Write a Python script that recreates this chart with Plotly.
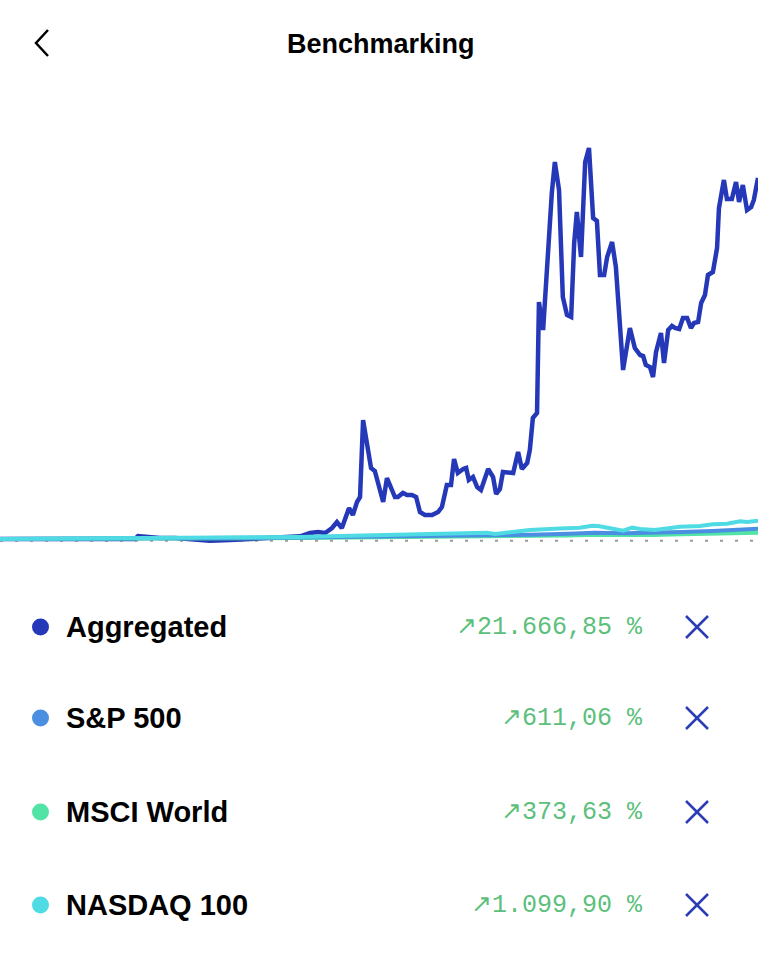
import plotly.graph_objects as go

# Aggregated portfolio performance (%), x = weeks
agg_weeks = [0, 8, 16, 24, 32, 35.6, 36.4, 38.3, 42.2, 46.2, 51.5, 55.4, 60.7, 66, 71.2, 76.5,
             79.2, 81.8, 83.9, 85.8, 87.6, 88.9, 90.2, 92.1, 93.1, 94.2, 95.0, 95.8, 97.9, 98.9,
             99.7, 101.1, 102.1, 104.2, 105.0, 106.3, 107.4, 108.7, 109.8, 110.8, 112.1, 114.0,
             115.6, 116.6, 117.9, 119.0, 119.8, 120.8, 122.2, 123.0, 123.7, 124.8, 125.9, 126.9,
             128.8, 130.1, 130.9, 131.9, 132.7, 135.4, 136.7, 137.7, 139.1, 139.8, 140.6, 141.7,
             142.2, 143.3, 145.6, 146.4, 147.5, 148.5, 149.6, 150.7, 151.5, 152.2, 153.3, 154.4,
             155.4, 156.5, 157.5, 158.3, 159.4, 160.2, 161.5, 162.5, 164.4, 166.2, 167.5, 168.9,
             169.7, 170.4, 171.5, 172.3, 173.1, 174.4, 175.2, 176.3, 177.3, 178.1, 179.2, 180.2,
             181.3, 182.3, 183.1, 184.2, 185.0, 186.0, 186.8, 188.1, 189.2, 189.7, 191.0, 191.8,
             193.1, 194.2, 195.0, 196.0, 197.1, 198.2, 198.9, 200]
agg_values = [0, 10, -10, 20, 0, 0, 180, 120, 60, 60, -60, -100, -60, 0, 40, 100,
              160, 360, 420, 360, 660, 1020, 660, 1860, 1440, 2220, 2520, 7140, 4260, 4080,
              3420, 2220, 3660, 2520, 2520, 2760, 2640, 2640, 2520, 1620, 1440, 1440,
              1620, 1920, 3240, 3240, 4800, 3960, 4200, 4260, 3540, 3720, 3120, 2940,
              4200, 3720, 2700, 3000, 4020, 3960, 5220, 4200, 4560, 5340, 7260, 7560,
              14220, 12540, 20760, 22620, 20940, 14520, 13440, 13320, 17760, 19620, 16920, 22620,
              23460, 19260, 19080, 15840, 15840, 16920, 17820, 16320, 10140, 12660, 11460, 11040,
              10980, 10440, 10320, 9720, 11220, 12360, 10560, 12540, 12780, 12660, 12600, 13260,
              13260, 12660, 12960, 13020, 14160, 14640, 15840, 16020, 17460, 19860, 21540, 20400,
              20400, 21420, 20220, 21240, 19740, 19920, 20340, 21666.85]

# Benchmarks (%)
nasdaq_weeks = [0, 13.2, 26.4, 39.6, 52.8, 66, 79.2, 89.7, 100.3, 110.8, 121.4, 128.5, 130.6,
                139.8, 147.8, 153.0, 156.2, 157.8, 161.0, 164.4, 166.8, 168.9, 172.8, 176.8,
                179.4, 184.7, 188.1, 191.8, 195.3, 197.1, 200]
nasdaq_values = [0, 10, 30, 60, 90, 90, 120, 180, 240, 280, 330, 380, 300,
                 540, 630, 680, 800, 780, 640, 500, 680, 600, 540, 640,
                 740, 780, 880, 920, 1060, 1020, 1099.90]

bench_weeks = [0, 26, 53, 79, 100, 120, 130, 140, 150, 157, 165, 172, 180, 188, 195, 200]
sp500_values = [0, 20, 50, 90, 150, 200, 190, 260, 320, 380, 340, 360, 420, 480, 540, 611.06]
msci_values = [0, 10, 30, 60, 100, 140, 130, 170, 210, 250, 220, 240, 280, 310, 340, 373.63]

names = ["Aggregated", "S&P 500", "MSCI World", "NASDAQ 100"]
colors = ["#2538b8", "#4a8fe2", "#52e3a6", "#4fdbe4"]
returns = ["↗21.666,85 %", "↗611,06 %", "↗373,63 %", "↗1.099,90 %"]

W, H = 762, 960


def px(x):
    return x / W


def py(y):
    return 1 - y / H


fig = go.Figure()

fig.add_trace(go.Scatter(x=agg_weeks, y=agg_values, mode="lines",
                         line=dict(color=colors[0], width=4.5), hoverinfo="skip"))
fig.add_trace(go.Scatter(x=bench_weeks, y=msci_values, mode="lines",
                         line=dict(color=colors[2], width=4), hoverinfo="skip"))
fig.add_trace(go.Scatter(x=bench_weeks, y=sp500_values, mode="lines",
                         line=dict(color=colors[1], width=4), hoverinfo="skip"))
fig.add_trace(go.Scatter(x=nasdaq_weeks, y=nasdaq_values, mode="lines",
                         line=dict(color=colors[3], width=4), hoverinfo="skip"))

shapes = []
# dotted zero line
shapes.append(dict(type="line", xref="x", yref="y", x0=0, x1=200, y0=-100, y1=-100,
                   line=dict(color="#9a9a9a", width=2, dash="3px,12px"), layer="below"))
# back chevron
shapes.append(dict(type="path", xref="paper", yref="paper",
                   path=f"M {px(48)},{py(30)} L {px(36)},{py(43)} L {px(48)},{py(56)}",
                   line=dict(color="black", width=2.5)))

annotations = [dict(text="<b>Benchmarking</b>", x=px(381), y=py(44), xref="paper", yref="paper",
                    showarrow=False, xanchor="center", yanchor="middle",
                    font=dict(family="Liberation Sans", size=27, color="black"))]

row_y = [627, 718, 812, 905]
for name, col, ret, yy in zip(names, colors, returns, row_y):
    shapes.append(dict(type="circle", xref="paper", yref="paper",
                       x0=px(32), x1=px(49), y0=py(yy + 8.5), y1=py(yy - 8.5),
                       fillcolor=col, line=dict(width=0)))
    shapes.append(dict(type="line", xref="paper", yref="paper",
                       x0=px(686), x1=px(708), y0=py(yy - 11), y1=py(yy + 11),
                       line=dict(color="#2b3db5", width=2.5)))
    shapes.append(dict(type="line", xref="paper", yref="paper",
                       x0=px(686), x1=px(708), y0=py(yy + 11), y1=py(yy - 11),
                       line=dict(color="#2b3db5", width=2.5)))
    annotations.append(dict(text=f"<b>{name}</b>", x=px(64), y=py(yy), xref="paper", yref="paper",
                            showarrow=False, xanchor="left", yanchor="middle",
                            font=dict(family="Liberation Sans", size=29, color="black")))
    annotations.append(dict(text=ret, x=px(645), y=py(yy), xref="paper", yref="paper",
                            showarrow=False, xanchor="right", yanchor="middle",
                            font=dict(family="Liberation Mono", size=25, color="#5cbf7c")))

fig.update_layout(
    width=W,
    height=H,
    margin=dict(l=0, r=0, t=0, b=0),
    paper_bgcolor="white",
    plot_bgcolor="white",
    showlegend=False,
    xaxis=dict(visible=False, range=[0, 200], domain=[0, 758 / W]),
    yaxis=dict(visible=False, range=[-1260, 25140], domain=[1 - 560 / H, 1 - 120 / H]),
    shapes=shapes,
    annotations=annotations,
)

# drop the default page margin so the figure sits at the window's top-left
fig.write_html("out.html", config={"displayModeBar": False},
               post_script="document.body.style.margin='0';")
